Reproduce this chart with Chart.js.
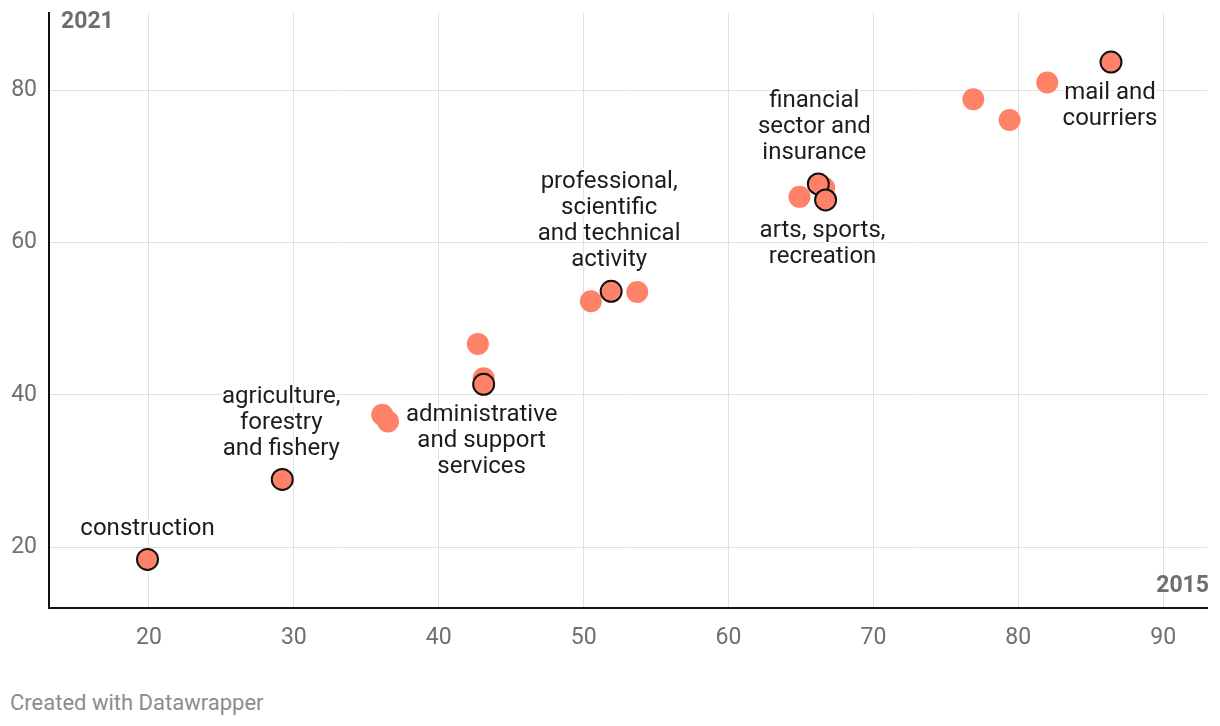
<!DOCTYPE html>
<html>
<head>
<meta charset="utf-8">
<script src="https://cdn.jsdelivr.net/npm/chart.js@4.4.1/dist/chart.umd.min.js"></script>
<style>
    html, body { margin: 0; padding: 0; background: #fff; }
    #wrap { position: relative; width: 1220px; height: 726px; }
    #footer { position: absolute; left: 10px; top: 690px; font: 22px Roboto, sans-serif; color: #8c8c8c; }
</style>
</head>
<body>
<div id="wrap">
    <canvas id="scatter" width="1220" height="680"></canvas>
    <div id="footer">Created with Datawrapper</div>
</div>
<script>
(function () {
    // highlighted sectors (outlined, labelled)
    const labelNames = [
        'construction',
        'agriculture,\nforestry\nand fishery',
        'administrative\nand support\nservices',
        'professional,\nscientific\nand technical\nactivity',
        'financial\nsector and\ninsurance',
        'arts, sports,\nrecreation',
        'mail and\ncourriers'
    ];
    const label2015 = [19.9, 29.2, 43.1, 51.9, 66.2, 66.7, 86.4];
    const label2021 = [18.4, 28.9, 41.4, 53.6, 67.7, 65.6, 83.7];

    // other sectors (no outline, no label)
    const other2015 = [36.1, 36.5, 43.1, 42.7, 50.5, 53.7, 64.9, 66.6, 76.9, 79.4, 82.0];
    const other2021 = [37.4, 36.5, 42.2, 46.7, 52.3, 53.5, 66.0, 67.2, 78.8, 76.1, 81.0];

    const xTicks = [20, 30, 40, 50, 60, 70, 80, 90];
    const yTicks = [20, 40, 60, 80];

    // label placement: offset of first text line from its point, in px
    const labelOffsets = [[0, -30], [-1, -82], [-2, 31], [-2, -109], [-4, -83], [-3, 31], [-1, 31]];
    const lineHeight = 26;

    function toPoints(xs, ys) { return xs.map(function (x, i) { return { x: x, y: ys[i] }; }); }

    const salmon = '#fe8268';

    const labelPlugin = {
        id: 'pointLabels',
        afterDatasetsDraw: function (chart) {
            const ctx = chart.ctx;
            const xs = chart.scales.x, ys = chart.scales.y;
            ctx.save();
            ctx.font = '24px Roboto, sans-serif';
            ctx.textAlign = 'center';
            ctx.textBaseline = 'middle';
            for (let i = 0; i < labelNames.length; i++) {
                const px = xs.getPixelForValue(label2015[i]) + labelOffsets[i][0];
                const py = ys.getPixelForValue(label2021[i]) + labelOffsets[i][1];
                const lines = labelNames[i].split('\n');
                for (let j = 0; j < lines.length; j++) {
                    ctx.lineWidth = 4;
                    ctx.strokeStyle = 'rgba(255,255,255,0.9)';
                    ctx.strokeText(lines[j], px, py + j * lineHeight);
                    ctx.fillStyle = '#1d1d1d';
                    ctx.fillText(lines[j], px, py + j * lineHeight);
                }
            }
            // axis titles
            ctx.font = 'bold 23px Roboto, sans-serif';
            ctx.fillStyle = '#6e6e6e';
            ctx.textAlign = 'left';
            ctx.fillText('2021', 61, 22);
            ctx.textAlign = 'right';
            ctx.fillText('2015', 1209, chart.chartArea.bottom - 22);
            ctx.restore();
        }
    };

    new Chart(document.getElementById('scatter'), {
        type: 'scatter',
        data: {
            datasets: [
                {
                    label: 'highlighted',
                    data: toPoints(label2015, label2021),
                    backgroundColor: salmon,
                    borderColor: '#111',
                    borderWidth: 2,
                    pointRadius: 10.5,
                    pointHoverRadius: 10.5
                },
                {
                    label: 'other',
                    data: toPoints(other2015, other2021),
                    backgroundColor: salmon,
                    borderWidth: 0,
                    pointRadius: 11,
                    pointHoverRadius: 11
                }
            ]
        },
        plugins: [labelPlugin],
        options: {
            responsive: false,
            animation: false,
            layout: { padding: { top: 10, right: 9, left: 0, bottom: 0 } },
            plugins: { legend: { display: false }, tooltip: { enabled: false } },
            scales: {
                x: {
                    type: 'linear',
                    min: 13.1,
                    max: 93.06,
                    afterFit: function (s) { s.height = 72; s.paddingLeft = 0; s.paddingRight = 0; },
                    afterBuildTicks: function (s) { s.ticks = xTicks.map(function (v) { return { value: v }; }); },
                    grid: { color: '#e0e0e0', lineWidth: 1, drawTicks: false },
                    border: { display: true, color: '#111', width: 2 },
                    ticks: { padding: 16, color: '#6f6f6f', font: { family: 'Roboto', size: 23 } }
                },
                y: {
                    type: 'linear',
                    min: 12.03,
                    max: 90.2,
                    afterFit: function (s) { s.width = 49; s.paddingTop = 0; s.paddingBottom = 0; },
                    afterBuildTicks: function (s) { s.ticks = yTicks.map(function (v) { return { value: v }; }); },
                    grid: { color: '#e0e0e0', lineWidth: 1, drawTicks: false },
                    border: { display: true, color: '#111', width: 2 },
                    ticks: { padding: 12, color: '#6f6f6f', font: { family: 'Roboto', size: 23 } }
                }
            }
        }
    });
})();
</script>
</body>
</html>
